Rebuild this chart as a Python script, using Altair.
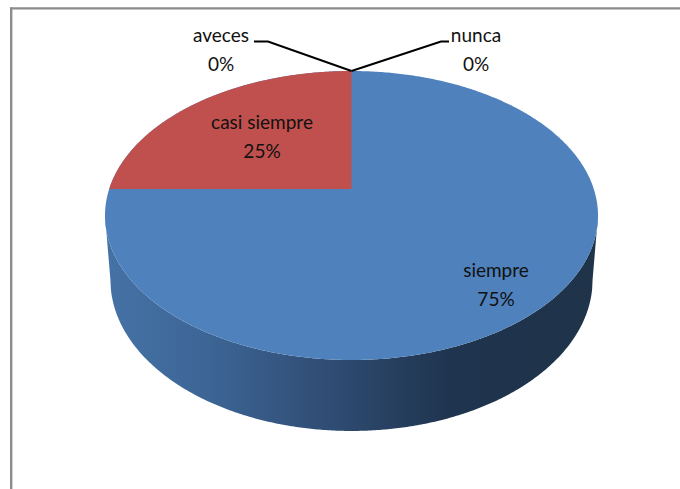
import altair as alt
import numpy as np
import pandas as pd

# Survey shares, in percent
categories = ["siempre", "casi siempre", "aveces", "nunca"]
shares = [75, 25, 0, 0]

# Pie geometry in unit-disc coordinates, mapped to the page by the scales below
W, H = 680, 489
CX, CY, RX, RY = 351.5, 215.5, 246.5, 144.5
x_scale = alt.Scale(domain=[(0 - CX) / RX, (W - CX) / RX], range=[0, W], nice=False, zero=False)
y_scale = alt.Scale(domain=[(CY - H) / RY, (CY - 0) / RY], range=[H, 0], nice=False, zero=False)
X = alt.X("x:Q", scale=x_scale, axis=None)
Y = alt.Y("y:Q", scale=y_scale, axis=None)
Y2 = alt.Y2("y2:Q")

BLUE, RED, FRAME = "#4f81bd", "#c0504d", "#8c8c8c"
APEX_Y = 0.184      # perspective-shifted centre of the top face
BASE_CY, BASE_RX, BASE_RY = -0.446, 0.978, 1.045  # lower rim of the drum

u = -np.cos(np.linspace(0, np.pi, 361))
top_half = np.sqrt(1 - u ** 2)

# Side wall: from the front rim of the top face down to the base rim;
# outside the base rim the silhouette runs straight up to the widest point of the top face
base = np.where(
    np.abs(u) <= BASE_RX,
    BASE_CY - BASE_RY * np.sqrt(np.clip(1 - (u / BASE_RX) ** 2, 0, 1)),
    BASE_CY * (1 - np.abs(u)) / (1 - BASE_RX),
)
wall = pd.DataFrame({"x": u, "y": -top_half, "y2": base})
wall_gradient = alt.Gradient(
    gradient="linear", x1=0, x2=1, y1=0, y2=0,
    stops=[
        alt.GradientStop(offset=0.0, color="#4572a6"),
        alt.GradientStop(offset=0.2, color="#3d6696"),
        alt.GradientStop(offset=0.48, color="#2e4a70"),
        alt.GradientStop(offset=0.70, color="#1f344e"),
        alt.GradientStop(offset=1.0, color="#1f3349"),
    ],
)
wall_layer = alt.Chart(wall).mark_area(fill=wall_gradient, interpolate="linear").encode(x=X, y=Y, y2=Y2)

# Top face, first as a whole in the colour of the largest slice
face = pd.DataFrame({"x": u, "y": top_half, "y2": -top_half})
face_layer = alt.Chart(face).mark_area(color=BLUE).encode(x=X, y=Y, y2=Y2)

# Second slice, measured counter-clockwise from twelve o'clock
angle = np.pi / 2 + 2 * np.pi * shares[1] / 100
dir_x, dir_y = np.cos(angle), np.sin(angle)
b = APEX_Y * dir_y
reach = -b + np.sqrt(b ** 2 - (APEX_Y ** 2 - 1))
left_x = reach * dir_x
ux = np.linspace(left_x, 0, 200)
slice_df = pd.DataFrame({"x": ux, "y": np.sqrt(1 - ux ** 2), "y2": APEX_Y})
slice_layer = alt.Chart(slice_df).mark_area(color=RED).encode(x=X, y=Y, y2=Y2)


def to_x(px):
    return (px - CX) / RX


def to_y(py):
    return (CY - py) / RY


# Leader lines of the two empty slices, both starting at the top of the pie
leaders = pd.DataFrame({
    "name": ["aveces"] * 3 + ["nunca"] * 3,
    "step": [0, 1, 2] * 2,
    "x": [0, to_x(268), to_x(254), 0, to_x(441), to_x(449)],
    "y": [1, to_y(41.5), to_y(41.5), 1, to_y(41.5), to_y(41.5)],
})
leader_layer = alt.Chart(leaders).mark_line(color="#000000", strokeWidth=2).encode(
    x=X, y=Y, detail="name:N", order="step:Q"
)

# Slice labels: category on one line, percentage on the next
anchors = {"siempre": (496, 271), "casi siempre": (262, 123), "aveces": (221, 36), "nunca": (476, 36)}
rows = []
for name, share in zip(categories, shares):
    ax, ay = anchors[name]
    rows.append({"x": to_x(ax), "y": to_y(ay), "label": name})
    rows.append({"x": to_x(ax), "y": to_y(ay + 29), "label": f"{share}%"})
labels = pd.DataFrame(rows)
label_layer = alt.Chart(labels).mark_text(
    font="Lato", fontSize=19, color="#111111", align="center", baseline="middle"
).encode(x=X, y=Y, text="label:N")

# Chart frame: only the top and left edges fall inside the page
frame_left = alt.Chart(pd.DataFrame({"a": [0]})).mark_rule(color=FRAME, strokeWidth=2.4).encode(
    x=alt.value(11.2), y=alt.value(7.5), y2=alt.value(H)
)
frame_top = alt.Chart(pd.DataFrame({"a": [0]})).mark_rule(color=FRAME, strokeWidth=2.2).encode(
    x=alt.value(10), x2=alt.value(W), y=alt.value(8.3)
)

chart = alt.layer(
    frame_left, frame_top, wall_layer, face_layer, slice_layer, leader_layer, label_layer
).properties(
    width=W, height=H, padding=0, autosize=alt.AutoSizeParams(type="none"), background="#ffffff"
).configure_view(stroke=None)

chart.save("out.html", embed_options={"renderer": "svg", "actions": False})
